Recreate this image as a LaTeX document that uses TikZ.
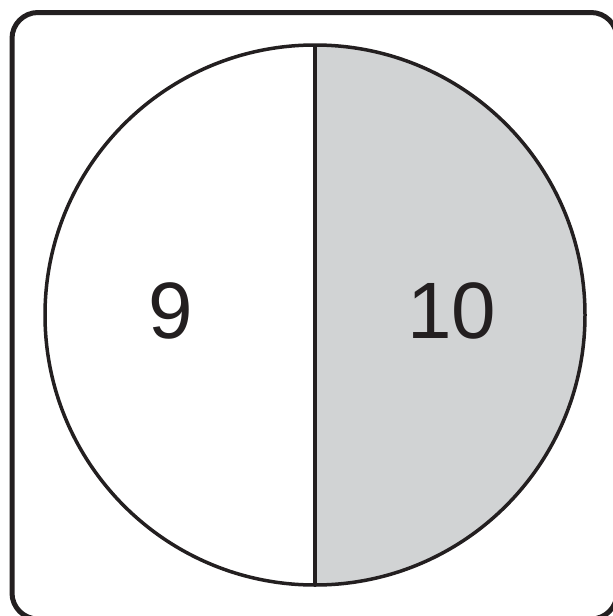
\documentclass[tikz,border=0pt]{standalone}
\usepackage{fontspec}
\setmainfont{Liberation Sans}
\definecolor{halfgray}{HTML}{D1D3D4}
\definecolor{ink}{HTML}{231F20}
\begin{document}
\begin{tikzpicture}[x=1pt,y=-1pt,
  frame/.style={draw=ink,line width=5pt,rounded corners=26pt},
  outline/.style={draw=ink,line width=3.5pt},
  numlabel/.style={font=\fontsize{80}{80}\selectfont,text=ink,inner sep=0pt}]
\useasboundingbox (0,0) rectangle (613,616);
\begin{scope}
\clip (0,0) rectangle (613,616);
\draw[frame] (12,12.5) rectangle (617,619);
\end{scope}
\coordinate (c) at (315,315);
\coordinate (top) at (315,45);
\coordinate (bot) at (315,585);
\fill[halfgray] (top) arc[start angle=-90,end angle=90,radius=270] -- cycle;
\draw[outline] (c) circle[radius=270];
\draw[outline] (top) -- (bot);
\node[numlabel] (nine) at (171,311) {9};
\node[numlabel] (ten) at (452,311) {10};
\end{tikzpicture}
\end{document}
